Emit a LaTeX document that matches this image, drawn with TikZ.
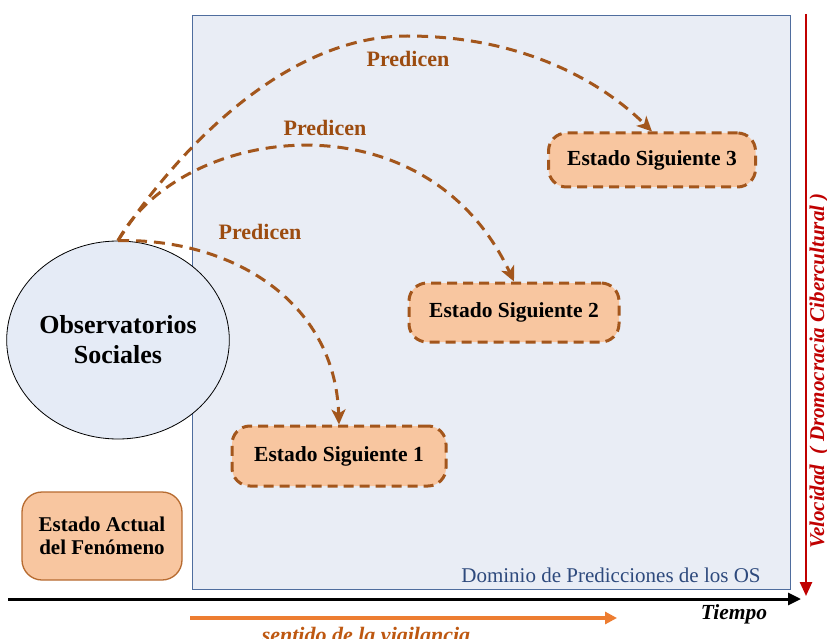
\documentclass[tikz,border=0pt]{standalone}
\usepackage{fontspec}
\setmainfont{Liberation Serif}
\usetikzlibrary{arrows.meta,shapes.geometric}
\definecolor{brn}{HTML}{A3561C}
\definecolor{predtxt}{HTML}{9C4C10}
\definecolor{esfill}{HTML}{F8C6A0}
\definecolor{eaborder}{HTML}{B76B30}
\definecolor{domfill}{HTML}{E9EDF5}
\definecolor{domborder}{HTML}{4F6D9E}
\definecolor{circfill}{HTML}{E5EBF6}
\definecolor{velred}{HTML}{C00000}
\definecolor{vigor}{HTML}{ED7D31}
\definecolor{vigtxt}{HTML}{BE5811}
\definecolor{domtxt}{HTML}{2E4A7D}
\tikzset{
  esbox/.style={draw=brn, fill=esfill, line width=3pt, dash pattern=on 10pt off 6pt,
    rounded corners=18pt, inner sep=0pt, align=center,
    font=\fontsize{21.5}{24}\selectfont\bfseries},
  predarrow/.style={draw=brn, line width=3pt, dash pattern=on 11pt off 7pt,
    -{Stealth[length=15pt,width=14pt,inset=4pt]}},
  predlabel/.style={text=predtxt, font=\fontsize{22}{24}\selectfont\bfseries},
}
\begin{document}
\begin{tikzpicture}[x=1pt,y=-1pt]
\clip (0,0) rectangle (827,639);
\fill[white] (0,0) rectangle (827,639);
% domain box
\node[draw=domborder, fill=domfill, line width=1pt, anchor=north west, inner sep=0pt,
  minimum width=598pt, minimum height=574pt] (dom) at (192,15) {};
\node[text=domtxt, font=\fontsize{21}{24}\selectfont] (domlbl) at (611,575) {Dominio de Predicciones de los OS};
% observatories ellipse
\node[ellipse, draw=black, fill=circfill, line width=0.8pt, inner sep=0pt,
  minimum width=210pt, minimum height=198pt, align=center,
  font=\fontsize{26}{30}\selectfont\bfseries] (obs) at (118,340) {Observatorios\\Sociales};
% states
\node[esbox, minimum width=214pt, minimum height=60pt] (es1) at (339,456) {Estado Siguiente 1};
\node[esbox, minimum width=210pt, minimum height=59pt] (es2) at (514,312.5) {Estado Siguiente 2};
\node[esbox, minimum width=207pt, minimum height=54pt] (es3) at (652,160) {Estado Siguiente 3};
\node[draw=eaborder, fill=esfill, line width=1.3pt, rounded corners=20pt, inner sep=0pt,
  minimum width=160pt, minimum height=88pt, align=center,
  font=\fontsize{21}{23}\selectfont\bfseries] (ea) at (102,536) {Estado Actual\\del Fenómeno};
% prediction arrows
\draw[predarrow] (obs.north) .. controls (230,238) and (335,300) .. (es1.north);
\draw[predarrow] (obs.north) .. controls (182,124) and (425,92) .. (es2.north);
\coordinate (peak3) at (407,36);
\draw[predarrow] (obs.north) .. controls (170,160) and (280,36) .. (peak3)
  .. controls (520,36) and (600,80) .. (es3.north);
\node[predlabel] (p1) at (260,232) {Predicen};
\node[predlabel] (p2) at (325,128) {Predicen};
\node[predlabel] (p3) at (408,59) {Predicen};
% time axis
\coordinate (tA) at (8,599);
\coordinate (tB) at (801,599);
\draw[line width=3pt, -{Triangle[length=13pt,width=12pt]}] (tA) -- (tB);
\node[font=\fontsize{21.5}{24}\selectfont\bfseries\itshape] (tiempo) at (734,614) {Tiempo};
% velocity axis
\coordinate (vA) at (806,14);
\coordinate (vB) at (806,596);
\draw[velred, line width=2.5pt, -{Triangle[length=14pt,width=12pt]}] (vA) -- (vB);
\node[rotate=90, text=velred, font=\fontsize{21}{24}\selectfont\bfseries\itshape] (vel) at (819,371) {Velocidad~ ( Dromocracia Cibercultural )};
% vigilance arrow
\coordinate (gA) at (190,618);
\coordinate (gB) at (617,618);
\draw[vigor, line width=3.5pt, -{Triangle[length=12pt,width=12pt]}] (gA) -- (gB);
\node[text=vigtxt, font=\fontsize{22}{24}\selectfont\bfseries\itshape, anchor=base] (vig) at (366,642) {sentido de la vigilancia};
\end{tikzpicture}
\end{document}
